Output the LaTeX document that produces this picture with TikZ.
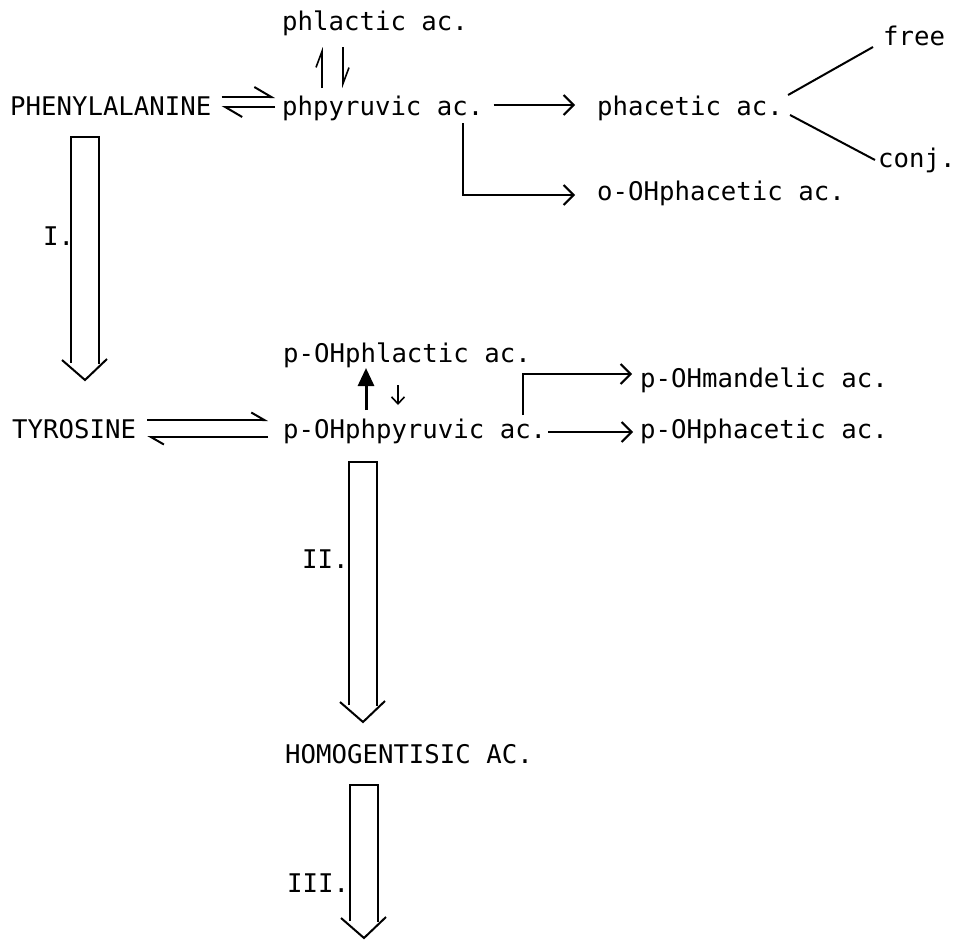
\documentclass[tikz,border=0pt]{standalone}
\usepackage{fontspec}
\usepackage{tikz}
\usetikzlibrary{arrows.meta, positioning}
\newfontfamily\typer{DejaVu Sans Mono}

% hollow pathway arrow: centre x, top y, tip y
\newcommand{\fatarrow}[3]{%
  \draw[fat] ({#1-14},{#3-17}) -- ({#1-14},#2) -- ({#1+14},#2) -- ({#1+14},{#3-16});
  \draw[fat] ({#1-23},{#3-20}) -- (#1,#3) -- ({#1+22},{#3-21});
}

\begin{document}
\begin{tikzpicture}[
  x=1pt, y=-1pt,
  met/.style={anchor=base west, inner sep=0pt, font=\typer\fontsize{25.7}{30}\selectfont},
  lab/.style={met},
  fat/.style={line width=2pt, line join=miter},
  arr/.style={-{Straight Barb[length=10pt, width=20pt]}, line width=2pt},
  harp/.style={-{Straight Barb[left, length=17pt, width=20pt]}, line width=2pt},
  tharp/.style={-{Straight Barb[left, length=13pt, width=15pt]}, line width=2pt},
  thin/.style={-{Straight Barb[left, length=16pt, width=12pt]}, line width=1.6pt},
  link/.style={line width=2pt}
]
\useasboundingbox (0,0) rectangle (972,940);

% ── PHENYLALANINE ROW ─────────────────────────────────────────────────────────
\node[met] (phl)  at (282, 30)  {phlactic ac.};
\node[met] (phe)  at (10, 115)  {PHENYLALANINE};
\node[met] (ppy)  at (282, 115) {phpyruvic ac.};
\node[met] (pha)  at (597, 115) {phacetic ac.};
\node[met] (free) at (883, 45)  {free};
\node[met] (conj) at (878, 167) {conj.};
\node[met] (oph)  at (597, 200) {o-OHphacetic ac.};

\draw[harp] ([xshift=10, yshift=18]phe.base east) -- ([xshift=-7, yshift=18]ppy.base west);
\draw[harp] ([xshift=-7, yshift=8]ppy.base west) -- ([xshift=10, yshift=8]phe.base east);

\draw[thin] ([xshift=40, yshift=27]ppy.base west) -- ([xshift=40, yshift=-17]phl.base west);
\draw[thin] ([xshift=61, yshift=-17]phl.base west) -- ([xshift=61, yshift=27]ppy.base west);

\draw[arr] ([xshift=10, yshift=10]ppy.base east) -- ([xshift=-22, yshift=10]pha.base west);
\draw[arr] ([xshift=-21, yshift=-8]ppy.base east) |- ([xshift=-22, yshift=5]oph.base west);

\draw[link] ([xshift=5, yshift=20]pha.base east) -- ([xshift=-10, yshift=-2]free.base west);
\draw[link] ([xshift=7, yshift=0]pha.base east) -- ([xshift=-3, yshift=7]conj.base west);

% step I
\fatarrow{85}{137}{380}
\node[lab] (one) at (43, 245) {I.};

% ── TYROSINE ROW ──────────────────────────────────────────────────────────────
\node[met] (tyr) at (12, 438)  {TYROSINE};
\node[met] (hpl) at (283, 362) {p-OHphlactic ac.};
\node[met] (hpp) at (283, 438) {p-OHphpyruvic ac.};
\node[met] (man) at (640, 387) {p-OHmandelic ac.};
\node[met] (hpa) at (640, 438) {p-OHphacetic ac.};

\draw[tharp] ([xshift=11, yshift=18]tyr.base east) -- ([xshift=-15, yshift=18]hpp.base west);
\draw[tharp] ([xshift=-15, yshift=1]hpp.base west) -- ([xshift=11, yshift=1]tyr.base east);

\draw[-{Triangle[length=18pt, width=16pt]}, line width=3pt]
  ([xshift=83, yshift=28]hpp.base west) -- ([xshift=83, yshift=-6]hpl.base west);
\draw[-{Straight Barb[length=7pt, width=13pt]}, line width=1.6pt]
  ([xshift=115, yshift=-23]hpl.base west) -- ([xshift=115, yshift=33]hpp.base west);

\draw[arr] ([xshift=2, yshift=6]hpp.base east) -- ([xshift=-7, yshift=6]hpa.base west);
\draw[arr] ([xshift=-23, yshift=23]hpp.base east) |- ([xshift=-8, yshift=13]man.base west);

% step II
\fatarrow{363}{462}{722}
\node[lab] (two) at (302, 568) {II.};

% ── HOMOGENTISIC ACID ─────────────────────────────────────────────────────────
\node[met] (hga) at (285, 763) {HOMOGENTISIC AC.};

% step III
\fatarrow{364}{785}{938}
\node[lab] (three) at (287, 892) {III.};

\end{tikzpicture}
\end{document}
